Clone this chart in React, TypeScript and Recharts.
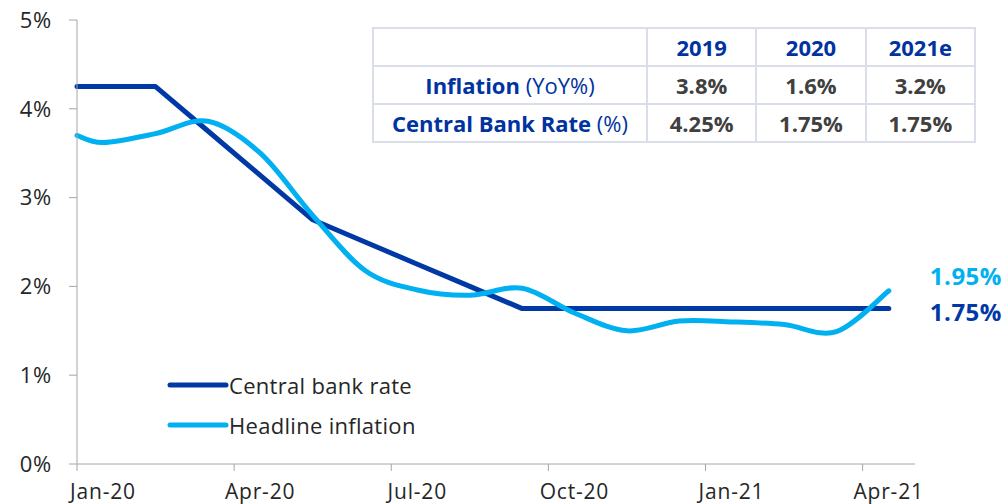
import React from "react";
import { Line, LineChart, XAxis, YAxis } from "recharts";

// month offsets from Jan-20 (first point is the start of the period, then mid-month readings)
const monthPos = [0, 0.5, 1.5, 2.5, 3.5, 4.5, 5.5, 6.5, 7.5, 8.5, 9.5, 10.5, 11.5, 12.5, 13.5, 14.5, 15.5];
const centralBankRate = [4.25, 4.25, 4.25, 3.75, 3.25, 2.75, 2.5, 2.25, 2.0, 1.75, 1.75, 1.75, 1.75, 1.75, 1.75, 1.75, 1.75];
const headlineInflation = [3.7, 3.62, 3.72, 3.86, 3.5, 2.8, 2.18, 1.96, 1.9, 1.98, 1.7, 1.5, 1.61, 1.6, 1.57, 1.49, 1.95];

const xTicks = [0, 3, 6, 9, 12, 15];
const xTickLabels = ["Jan-20", "Apr-20", "Jul-20", "Oct-20", "Jan-21", "Apr-21"];
const yTicks = [0, 1, 2, 3, 4, 5];

const tableYears = ["2019", "2020", "2021e"];
const inflationByYear = ["3.8%", "1.6%", "3.2%"];
const rateByYear = ["4.25%", "1.75%", "1.75%"];

const seriesNames = ["Central bank rate", "Headline inflation"];

const DARK = "#0039A6";
const LIGHT = "#00B0F0";
const FONT = "'Open Sans', sans-serif";

const chartData = monthPos.map((m, i) => ({
  m,
  rate: centralBankRate[i],
  inflation: headlineInflation[i],
}));

// smooth line like the spreadsheet's "smoothed line" (Catmull-Rom through the points)
const smoothCurve = (context: any) => {
  let pts: number[][] = [];
  return {
    areaStart() {},
    areaEnd() {},
    lineStart() {
      pts = [];
    },
    point(x: number, y: number) {
      pts.push([+x, +y]);
    },
    lineEnd() {
      if (!pts.length) return;
      context.moveTo(pts[0][0], pts[0][1]);
      for (let i = 0; i < pts.length - 1; i++) {
        const p0 = pts[Math.max(0, i - 1)];
        const p1 = pts[i];
        const p2 = pts[i + 1];
        const p3 = pts[Math.min(pts.length - 1, i + 2)];
        const t = 1 / 6;
        context.bezierCurveTo(
          p1[0] + (p2[0] - p0[0]) * t,
          p1[1] + (p2[1] - p0[1]) * t,
          p2[0] - (p3[0] - p1[0]) * t,
          p2[1] - (p3[1] - p1[1]) * t,
          p2[0],
          p2[1]
        );
      }
    },
  };
};

const XTick = (props: any) => {
  const { x, y, payload } = props;
  const idx = xTicks.indexOf(payload.value);
  return (
    <text
      x={x + 26}
      y={y + 26}
      textAnchor="middle"
      fontSize={21}
      letterSpacing={0.8}
      fill="#262626"
      fontFamily={FONT}
    >
      {xTickLabels[idx]}
    </text>
  );
};

const endLabel = (color: string, dy: number) => (props: any) => {
  const { x, y, index, value } = props;
  if (index !== monthPos.length - 1) return null;
  return (
    <text x={x + 41} y={y + dy} fontSize={24} fontWeight={700} letterSpacing={0.5} fill={color} fontFamily={FONT}>
      {value.toFixed(2)}%
    </text>
  );
};

const cell: React.CSSProperties = {
  border: "2px solid #D9DEE8",
  textAlign: "center",
  padding: 0,
  height: 36,
};

const App: React.FC = () => {
  return (
    <div style={{ position: "relative", width: 1006, height: 504 }}>
      <style>{`body{margin:0}`}</style>
      <LineChart width={1006} height={504} data={chartData} margin={{ top: 20, right: 91, bottom: 0, left: 0 }}>
        <XAxis
          dataKey="m"
          type="number"
          domain={[0, 16]}
          ticks={xTicks}
          tick={<XTick />}
          tickSize={7}
          stroke="#A6A6A6"
          height={40}
        />
        <YAxis
          domain={[0, 5]}
          ticks={yTicks}
          tickFormatter={(v) => `${v}%`}
          tickSize={8}
          tickMargin={17}
          width={77}
          stroke="#A6A6A6"
          tick={{ fontSize: 22, fill: "#262626", fontFamily: FONT, letterSpacing: 0.8 }}
        />
        <Line
          type="linear"
          dataKey="rate"
          stroke={DARK}
          strokeWidth={5}
          strokeLinejoin="round"
          strokeLinecap="round"
          dot={false}
          isAnimationActive={false}
          label={endLabel(DARK, 12)}
        />
        <Line
          type={smoothCurve as any}
          dataKey="inflation"
          stroke={LIGHT}
          strokeWidth={5}
          strokeLinecap="round"
          dot={false}
          isAnimationActive={false}
          label={endLabel(LIGHT, -6)}
        />
      </LineChart>

      {/* legend */}
      <div
        style={{
          position: "absolute",
          left: 167,
          top: 365,
          fontFamily: FONT,
          fontSize: 22,
          letterSpacing: 0.3,
          color: "#262626",
        }}
      >
        {seriesNames.map((name, i) => (
          <div key={name} style={{ display: "flex", alignItems: "center", height: 40 }}>
            <svg width={62} height={10}>
              <line x1={3} y1={5} x2={59} y2={5} stroke={i === 0 ? DARK : LIGHT} strokeWidth={5} strokeLinecap="round" />
            </svg>
            <span>{name}</span>
          </div>
        ))}
      </div>

      <table
        style={{
          position: "absolute",
          left: 372,
          top: 27,
          width: 604,
          borderCollapse: "collapse",
          background: "#fff",
          fontFamily: FONT,
          fontSize: 22,
          fontWeight: 700,
        }}
      >
        <tbody>
          <tr>
            <td style={{ ...cell, width: 272 }}></td>
            {tableYears.map((y) => (
              <td key={y} style={{ ...cell, color: "#0033A0" }}>
                {y}
              </td>
            ))}
          </tr>
          <tr>
            <td style={{ ...cell, color: "#0033A0" }}>
              Inflation <span style={{ fontWeight: 400 }}>(YoY%)</span>
            </td>
            {inflationByYear.map((v) => (
              <td key={v} style={{ ...cell, color: "#404040" }}>
                {v}
              </td>
            ))}
          </tr>
          <tr>
            <td style={{ ...cell, color: "#0033A0" }}>
              Central Bank Rate <span style={{ fontWeight: 400 }}>(%)</span>
            </td>
            {rateByYear.map((v, i) => (
              <td key={i} style={{ ...cell, color: "#404040" }}>
                {v}
              </td>
            ))}
          </tr>
        </tbody>
      </table>
    </div>
  );
};

export default App;
